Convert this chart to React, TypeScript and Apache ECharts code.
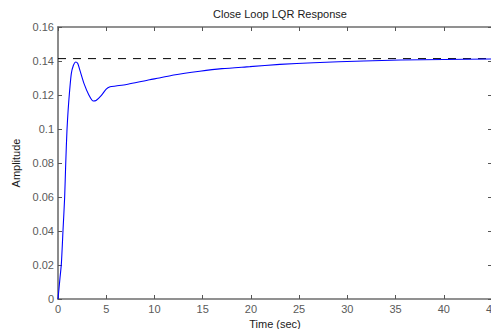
import React, { useEffect, useRef } from "react";
import * as echarts from "echarts";

const titleText = "Close Loop LQR Response";
const xAxisName = "Time (sec)";
const yAxisName = "Amplitude";

const timeValues = [
  0, 0.2, 0.35, 0.52, 0.69, 0.8, 0.93, 1.05, 1.18, 1.38, 1.6, 1.83, 2.05, 2.3, 2.7, 3.2, 3.63,
  3.95, 4.5, 5.0, 5.4, 6.0, 7.1, 8.0, 9.5, 10.5, 12, 14.7, 17, 19.9, 23, 26.5, 31.7, 35.5,
  40, 45,
];
const amplitudeValues = [
  0, 0.012, 0.0208, 0.0404, 0.0599, 0.0796, 0.0992, 0.111, 0.1208, 0.1326, 0.1375, 0.1394,
  0.1385, 0.134, 0.1267, 0.12, 0.1165, 0.1168, 0.1198, 0.1235, 0.1248, 0.1253, 0.1262,
  0.1272, 0.129, 0.13, 0.1318, 0.134, 0.1355, 0.1367, 0.138, 0.139, 0.14, 0.1406, 0.1409,
  0.1412,
];
const steadyStateValue = 0.1414;
const steadyStateTimes = [0, 45];

const xMin = 0;
const xMax = 45;
const xInterval = 5;
const yMin = 0;
const yMax = 0.16;
const yInterval = 0.02;

export default function App() {
  const ref = useRef<HTMLDivElement>(null);

  useEffect(() => {
    if (!ref.current) return;
    const chart = echarts.init(ref.current, null, { renderer: "svg" });
    const font = "Arial, 'Liberation Sans', sans-serif";
    const mkLine = () => ({ show: true, onZero: false, lineStyle: { color: "#6e6e6e", width: 1.6 } });
    const mkTick = () => ({ show: true, inside: true, length: 4, lineStyle: { color: "#555", width: 1 } });
    const option: any = {
      animation: false,
      backgroundColor: "#ffffff",
      title: {
        text: titleText,
        left: 275,
        top: 3,
        textAlign: "center",
        textStyle: { fontFamily: font, fontSize: 11, fontWeight: "normal", color: "#1a1a1a" },
      },
      grid: {
        left: 58,
        top: 27,
        width: 434,
        height: 272,
        containLabel: false,
        outerBoundsMode: "none",
      },
      xAxis: [
        {
          type: "value",
          min: xMin,
          max: xMax,
          interval: xInterval,
          position: "bottom",
          name: xAxisName,
          nameLocation: "middle",
          nameGap: 16,
          nameTextStyle: { fontFamily: font, fontSize: 11, color: "#1a1a1a" },
          axisLine: mkLine(),
          axisTick: mkTick(),
          axisLabel: { fontFamily: font, fontSize: 11, color: "#5a5a5a", margin: 4 },
          splitLine: { show: false },
        },
        {
          type: "value",
          min: xMin,
          max: xMax,
          interval: xInterval,
          position: "top",
          axisLine: mkLine(),
          axisTick: mkTick(),
          axisLabel: { show: false },
          splitLine: { show: false },
        },
      ],
      yAxis: [
        {
          type: "value",
          min: yMin,
          max: yMax,
          interval: yInterval,
          position: "left",
          name: yAxisName,
          nameLocation: "middle",
          nameGap: 35,
          nameRotate: 90,
          nameTextStyle: { fontFamily: font, fontSize: 11, color: "#1a1a1a" },
          axisLine: mkLine(),
          axisTick: mkTick(),
          axisLabel: { fontFamily: font, fontSize: 11, color: "#5a5a5a", margin: 4 },
          splitLine: { show: false },
        },
        {
          type: "value",
          min: yMin,
          max: yMax,
          interval: yInterval,
          position: "right",
          axisLine: mkLine(),
          axisTick: mkTick(),
          axisLabel: { show: false },
          splitLine: { show: false },
        },
      ],
      series: [
        {
          type: "line",
          xAxisIndex: 0,
          yAxisIndex: 0,
          data: steadyStateTimes.map((t) => [t, steadyStateValue]),
          symbol: "none",
          lineStyle: { color: "#000000", width: 1, type: [8, 7] },
          silent: true,
        },
        {
          type: "line",
          xAxisIndex: 0,
          yAxisIndex: 0,
          data: timeValues.map((t, i) => [t, amplitudeValues[i]]),
          symbol: "none",
          smooth: 0.25,
          lineStyle: { color: "#0000ff", width: 1.1 },
          silent: true,
        },
      ],
    };
    chart.setOption(option);
    return () => chart.dispose();
  }, []);

  return (
    <div
      ref={ref}
      style={{ position: "fixed", left: 0, top: 0, width: 491, height: 329, background: "#fff" }}
    />
  );
}
